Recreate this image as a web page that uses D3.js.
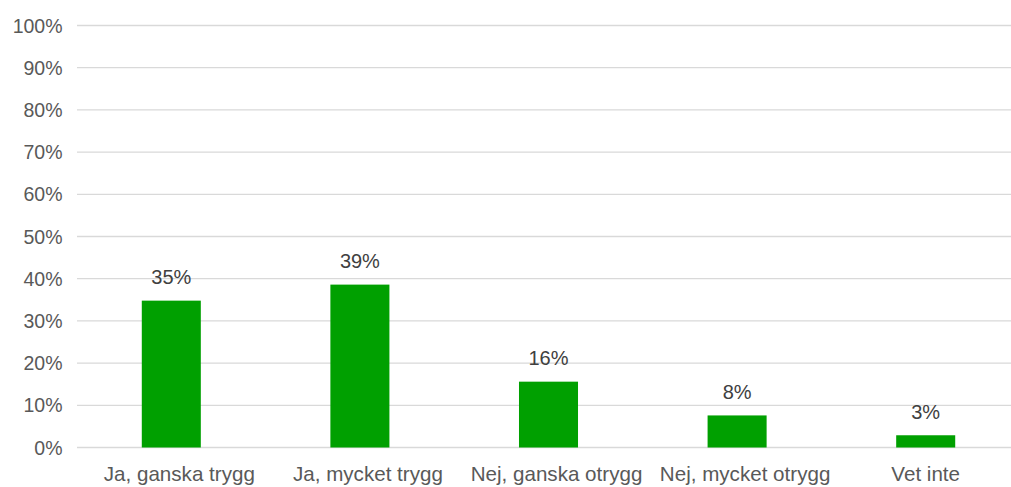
<!DOCTYPE html>
<html>
<head>
<meta charset="utf-8">
<script src="https://cdn.jsdelivr.net/npm/d3@7"></script>
<style>
  body { margin: 0; background: #fff; }
  text { font-family: "Liberation Sans", Arial, sans-serif; }
</style>
</head>
<body>
<script>
// chart data
var categories = ["Ja, ganska trygg", "Ja, mycket trygg", "Nej, ganska otrygg", "Nej, mycket otrygg", "Vet inte"];
var values = [34.8, 38.6, 15.6, 7.6, 2.9];
var labels = ["35%", "39%", "16%", "8%", "3%"];
var yTicks = [0, 10, 20, 30, 40, 50, 60, 70, 80, 90, 100];

var width = 1011, height = 487;
var plotLeft = 77, plotRight = 1020, plotTop = 25.5, plotBottom = 447.5;

var svg = d3.select("body").append("svg")
    .attr("width", width)
    .attr("height", height);

var x = d3.scaleBand().domain(categories).range([plotLeft, plotRight]).paddingInner(0.687).paddingOuter(0.3435);
var y = d3.scaleLinear().domain([0, 100]).range([plotBottom, plotTop]);

// gridlines
svg.append("g").selectAll("line")
    .data(yTicks)
    .enter().append("line")
    .attr("x1", plotLeft).attr("x2", width)
    .attr("y1", function(d) { return y(d); })
    .attr("y2", function(d) { return y(d); })
    .style("stroke", "#d9d9d9")
    .style("stroke-width", 1.3);

// y axis labels
svg.append("g").selectAll("text")
    .data(yTicks)
    .enter().append("text")
    .attr("x", 62.5)
    .attr("y", function(d) { return y(d) + 7; })
    .attr("text-anchor", "end")
    .style("font-size", "19.5px")
    .style("fill", "#595959")
    .text(function(d) { return d + "%"; });

// bars
svg.append("g").selectAll("rect")
    .data(values)
    .enter().append("rect")
    .attr("x", function(d, i) { return x(categories[i]); })
    .attr("y", function(d) { return y(d); })
    .attr("width", x.bandwidth())
    .attr("height", function(d) { return y(0) - y(d); })
    .style("fill", "#00a000");

// value labels
svg.append("g").selectAll("text")
    .data(values)
    .enter().append("text")
    .attr("x", function(d, i) { return x(categories[i]) + x.bandwidth() / 2; })
    .attr("y", function(d) { return y(d) - 16.5; })
    .attr("text-anchor", "middle")
    .style("font-size", "20px")
    .style("fill", "#404040")
    .text(function(d, i) { return labels[i]; });

// category labels (long ones sit a bit right of the bar centre in the original)
svg.append("g").selectAll("text")
    .data(categories)
    .enter().append("text")
    .attr("x", function(d) { return x(d) + x.bandwidth() / 2 + (d.length > 10 ? 8 : 0); })
    .attr("y", 481)
    .attr("text-anchor", "middle")
    .style("font-size", "20.6px")
    .style("fill", "#595959")
    .text(function(d) { return d; });
</script>
</body>
</html>
